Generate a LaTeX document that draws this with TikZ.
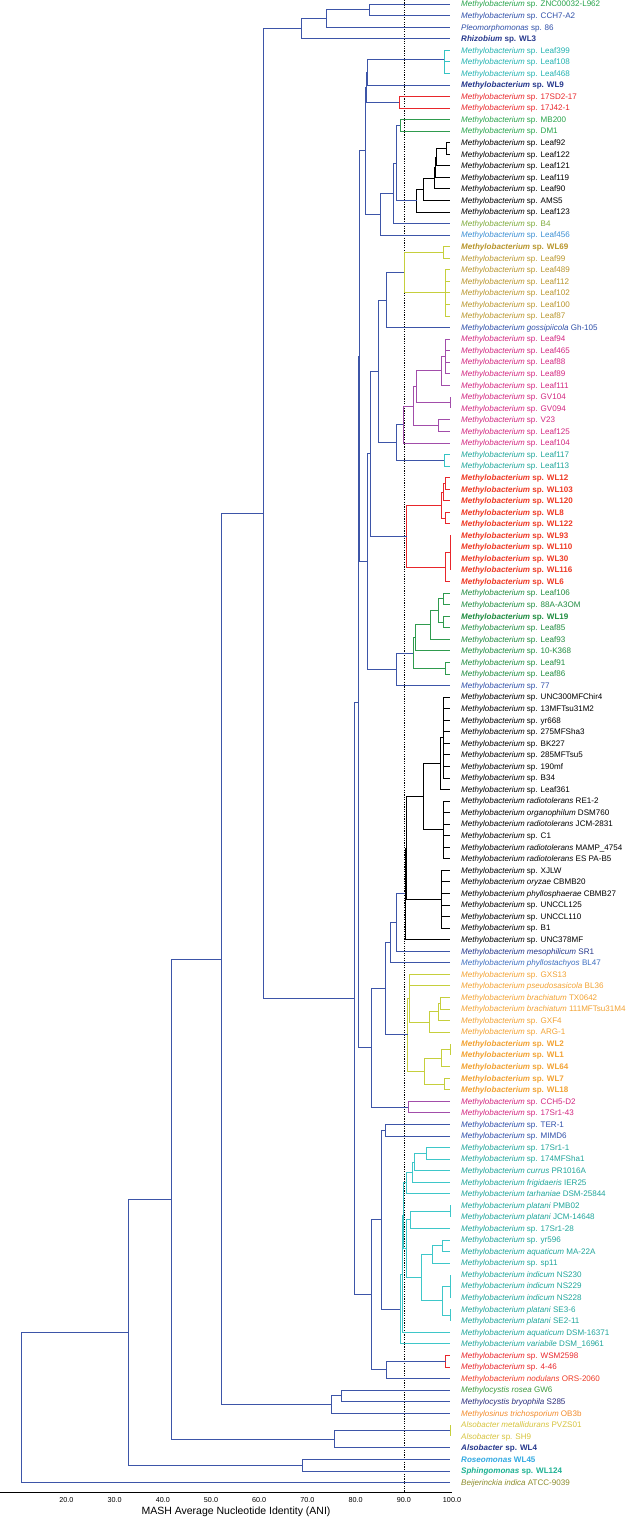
\documentclass[tikz,border=0pt]{standalone}
\usepackage{fontspec}
\setmainfont{Liberation Sans}
\usetikzlibrary{calc,positioning}
\definecolor{bb}{HTML}{3D55A8}
\definecolor{lblu}{HTML}{2F4FA8}
\definecolor{navy}{HTML}{26388C}
\definecolor{pblu}{HTML}{3E6FC0}
\definecolor{lgrn}{HTML}{27A34A}
\definecolor{ccy}{HTML}{35C4C4}
\definecolor{lcy}{HTML}{22B2B0}
\definecolor{red1}{HTML}{E8262B}
\definecolor{olv}{HTML}{7DAA3A}
\definecolor{sky}{HTML}{3B8ED3}
\definecolor{gold}{HTML}{B8952C}
\definecolor{cyel}{HTML}{C6CF3D}
\definecolor{mag}{HTML}{D2267F}
\definecolor{cmag}{HTML}{A24DAA}
\definecolor{tealg}{HTML}{1FA59A}
\definecolor{wlred}{HTML}{EE3A25}
\definecolor{dgrn}{HTML}{1E8B3F}
\definecolor{cgrn}{HTML}{2F9B4E}
\definecolor{orng}{HTML}{F2A233}
\definecolor{cte}{HTML}{3EC7C9}
\definecolor{rosg}{HTML}{3D9A3E}
\definecolor{bryo}{HTML}{2B2E7C}
\definecolor{osin}{HTML}{F28A2B}
\definecolor{als}{HTML}{D6C33C}
\definecolor{roseo}{HTML}{31A9E1}
\definecolor{sphi}{HTML}{1DB192}
\definecolor{beij}{HTML}{8B8B2B}
\tikzset{
  leaf/.style={anchor=west, inner sep=0pt, text height=5.8pt, text depth=0pt, font=\fontsize{8.05}{9}\selectfont},
  br/.style={line width=0.7pt},
  tick/.style={inner sep=0pt, font=\fontsize{7.2}{8}\selectfont},
}
% join two children (first, last) at x
\newcommand{\jn}[5][bb]{%
  \path ($(#4)!0.5!(#5)$) coordinate (mid);
  \coordinate (#2) at (#3,0 |- mid);
  \draw[br,#1] (#2) |- (#4) (#2) |- (#5);}
% extra child of a node
\newcommand{\jx}[3][bb]{\draw[br,#1] (#2) |- (#3);}
\newcommand{\Mby}{\textit{Methylobacterium}}
\begin{document}
\begin{tikzpicture}[x=1pt,y=-1pt]
  \useasboundingbox (0,0) rectangle (633,1519);

  % 90% ANI cut
  \coordinate (cut0) at (404,0);
  \coordinate (cut1) at (404,1492);
  \draw[line width=0.8pt,dash pattern=on 1.2pt off 1.2pt] (cut0) -- (cut1);

  % leaves
  \foreach \c/\t [count=\i] in {
    lgrn/{\Mby{} sp. ZNC00032-L962}, lblu/{\Mby{} sp. CCH7-A2}, lblu/{\textit{Pleomorphomonas} sp. 86},
    navy/{\bfseries\textit{Rhizobium} sp. WL3},
    lcy/{\Mby{} sp. Leaf399}, lcy/{\Mby{} sp. Leaf108}, lcy/{\Mby{} sp. Leaf468},
    navy/{\bfseries\Mby{} sp. WL9},
    red1/{\Mby{} sp. 17SD2-17}, red1/{\Mby{} sp. 17J42-1},
    lgrn/{\Mby{} sp. MB200}, lgrn/{\Mby{} sp. DM1},
    black/{\Mby{} sp. Leaf92}, black/{\Mby{} sp. Leaf122}, black/{\Mby{} sp. Leaf121}, black/{\Mby{} sp. Leaf119},
    black/{\Mby{} sp. Leaf90}, black/{\Mby{} sp. AMS5}, black/{\Mby{} sp. Leaf123},
    olv/{\Mby{} sp. B4}, sky/{\Mby{} sp. Leaf456},
    gold/{\bfseries\Mby{} sp. WL69}, gold/{\Mby{} sp. Leaf99}, gold/{\Mby{} sp. Leaf489}, gold/{\Mby{} sp. Leaf112},
    gold/{\Mby{} sp. Leaf102}, gold/{\Mby{} sp. Leaf100}, gold/{\Mby{} sp. Leaf87},
    lblu/{\textit{Methylobacterium gossipiicola} Gh-105},
    mag/{\Mby{} sp. Leaf94}, mag/{\Mby{} sp. Leaf465}, mag/{\Mby{} sp. Leaf88}, mag/{\Mby{} sp. Leaf89},
    mag/{\Mby{} sp. Leaf111}, mag/{\Mby{} sp. GV104}, mag/{\Mby{} sp. GV094}, mag/{\Mby{} sp. V23},
    mag/{\Mby{} sp. Leaf125}, mag/{\Mby{} sp. Leaf104},
    tealg/{\Mby{} sp. Leaf117}, tealg/{\Mby{} sp. Leaf113},
    wlred/{\bfseries\Mby{} sp. WL12}, wlred/{\bfseries\Mby{} sp. WL103}, wlred/{\bfseries\Mby{} sp. WL120},
    wlred/{\bfseries\Mby{} sp. WL8}, wlred/{\bfseries\Mby{} sp. WL122}, wlred/{\bfseries\Mby{} sp. WL93},
    wlred/{\bfseries\Mby{} sp. WL110}, wlred/{\bfseries\Mby{} sp. WL30}, wlred/{\bfseries\Mby{} sp. WL116},
    wlred/{\bfseries\Mby{} sp. WL6},
    dgrn/{\Mby{} sp. Leaf106}, dgrn/{\Mby{} sp. 88A-A3OM}, dgrn/{\bfseries\Mby{} sp. WL19},
    dgrn/{\Mby{} sp. Leaf85}, dgrn/{\Mby{} sp. Leaf93}, dgrn/{\Mby{} sp. 10-K368},
    dgrn/{\Mby{} sp. Leaf91}, dgrn/{\Mby{} sp. Leaf86},
    lblu/{\Mby{} sp. 77},
    black/{\Mby{} sp. UNC300MFChir4}, black/{\Mby{} sp. 13MFTsu31M2}, black/{\Mby{} sp. yr668},
    black/{\Mby{} sp. 275MFSha3}, black/{\Mby{} sp. BK227}, black/{\Mby{} sp. 285MFTsu5},
    black/{\Mby{} sp. 190mf}, black/{\Mby{} sp. B34}, black/{\Mby{} sp. Leaf361},
    black/{\textit{Methylobacterium radiotolerans} RE1-2}, black/{\textit{Methylobacterium organophilum} DSM760},
    black/{\textit{Methylobacterium radiotolerans} JCM-2831}, black/{\Mby{} sp. C1},
    black/{\textit{Methylobacterium radiotolerans} MAMP\_4754}, black/{\textit{Methylobacterium radiotolerans} ES PA-B5},
    black/{\Mby{} sp. XJLW}, black/{\textit{Methylobacterium oryzae} CBMB20},
    black/{\textit{Methylobacterium phyllosphaerae} CBMB27}, black/{\Mby{} sp. UNCCL125},
    black/{\Mby{} sp. UNCCL110}, black/{\Mby{} sp. B1}, black/{\Mby{} sp. UNC378MF},
    navy/{\textit{Methylobacterium mesophilicum} SR1}, pblu/{\textit{Methylobacterium phyllostachyos} BL47},
    orng/{\Mby{} sp. GXS13}, orng/{\textit{Methylobacterium pseudosasicola} BL36},
    orng/{\textit{Methylobacterium brachiatum} TX0642}, orng/{\textit{Methylobacterium brachiatum} 111MFTsu31M4},
    orng/{\Mby{} sp. GXF4}, orng/{\Mby{} sp. ARG-1},
    orng/{\bfseries\Mby{} sp. WL2}, orng/{\bfseries\Mby{} sp. WL1}, orng/{\bfseries\Mby{} sp. WL64},
    orng/{\bfseries\Mby{} sp. WL7}, orng/{\bfseries\Mby{} sp. WL18},
    mag/{\Mby{} sp. CCH5-D2}, mag/{\Mby{} sp. 17Sr1-43},
    lblu/{\Mby{} sp. TER-1}, lblu/{\Mby{} sp. MIMD6},
    tealg/{\Mby{} sp. 17Sr1-1}, tealg/{\Mby{} sp. 174MFSha1}, tealg/{\textit{Methylobacterium currus} PR1016A},
    tealg/{\textit{Methylobacterium frigidaeris} IER25}, tealg/{\textit{Methylobacterium tarhaniae} DSM-25844},
    tealg/{\textit{Methylobacterium platani} PMB02}, tealg/{\textit{Methylobacterium platani} JCM-14648},
    tealg/{\Mby{} sp. 17Sr1-28}, tealg/{\Mby{} sp. yr596}, tealg/{\textit{Methylobacterium aquaticum} MA-22A},
    tealg/{\Mby{} sp. sp11}, tealg/{\textit{Methylobacterium indicum} NS230}, tealg/{\textit{Methylobacterium indicum} NS229},
    tealg/{\textit{Methylobacterium indicum} NS228}, tealg/{\textit{Methylobacterium platani} SE3-6},
    tealg/{\textit{Methylobacterium platani} SE2-11}, tealg/{\textit{Methylobacterium aquaticum} DSM-16371},
    tealg/{\textit{Methylobacterium variabile} DSM\_16961},
    red1/{\Mby{} sp. WSM2598}, red1/{\Mby{} sp. 4-46}, wlred/{\textit{Methylobacterium nodulans} ORS-2060},
    rosg/{\textit{Methylocystis rosea} GW6}, bryo/{\textit{Methylocystis bryophila} S285},
    osin/{\textit{Methylosinus trichosporium} OB3b}, als/{\textit{Alsobacter metallidurans} PVZS01},
    als/{\textit{Alsobacter} sp. SH9}, navy/{\bfseries\textit{Alsobacter} sp. WL4},
    roseo/{\bfseries\textit{Roseomonas} WL45}, sphi/{\bfseries\textit{Sphingomonas} sp. WL124},
    beij/{\textit{Beijerinckia indica} ATCC-9039}} {
    \coordinate (t\i) at (450,{4+(\i-1)*11.55});
    \node[leaf,text=\c] (l\i) at (461,{4+(\i-1)*11.55}) {\t};
  }

  % top outgroup
  \jn{a1}{369}{t1}{t2}
  \jn{a2}{326.7}{a1}{t3}
  \jn{a3}{301.7}{a2}{t4}

  % Leaf399 ... Leaf456
  \jn[ccy]{c1}{444}{t6}{t7}
  \jn[ccy]{c2}{444}{t5}{c1}
  \jn{w9}{367.7}{c2}{t8}
  \jn[red1]{r1}{399.3}{t9}{t10}
  \jn{wr}{366.5}{w9}{r1}
  \jn[cgrn]{g1}{400}{t11}{t12}
  \jn[black]{b1}{446}{t13}{t14}
  \jn[black]{b2}{436}{b1}{t15}
  \jn[black]{b3}{435}{b2}{t16}
  \jn[black]{b4}{434}{b3}{t17}
  \jn[black]{b5}{423.3}{b4}{t18}
  \jn[black]{b6}{416.7}{b5}{t19}
  \jn{gb}{396}{g1}{b6}
  \jn{gb4}{393.3}{gb}{t20}
  \jn{gb5}{380}{gb4}{t21}
  \jn{x2}{365}{wr}{gb5}

  % WL69 ... Leaf113
  \jn[cyel]{y1}{443}{t22}{t23}
  \jn[cyel]{y2}{445}{t24}{t28}
  \jx[cyel]{y2}{t25} \jx[cyel]{y2}{t26} \jx[cyel]{y2}{t27}
  \jn[cyel]{yg}{404.3}{y1}{y2}
  \jn{yg2}{386.7}{yg}{t29}
  \jn[cmag]{m1}{445.7}{t30}{t33}
  \jx[cmag]{m1}{t31} \jx[cmag]{m1}{t32}
  \jn[cmag]{m2}{441.7}{m1}{t34}
  \jn[cmag]{gv}{450}{t35}{t36}
  \jn[cmag]{m3}{416.7}{m2}{gv}
  \jn[cmag]{vl}{438.3}{t37}{t38}
  \jn[cmag]{m4}{413.3}{m3}{vl}
  \jn[cmag]{m5}{403.3}{m4}{t39}
  \jn[ccy]{tl}{444}{t40}{t41}
  \jn{mt}{396}{m5}{tl}
  \jn{G1}{378.3}{yg2}{mt}

  % WL12 ... WL6
  \jn[red1]{rw1}{445.7}{t42}{t43}
  \jn[red1]{rw2}{443.3}{rw1}{t44}
  \jn[red1]{rw3}{445.7}{t45}{t46}
  \jn[red1]{rw4}{441}{rw2}{rw3}
  \jn[red1]{rw5}{450}{t47}{t50}
  \jx[red1]{rw5}{t48} \jx[red1]{rw5}{t49}
  \jn[red1]{rw6}{445.7}{rw5}{t51}
  \jn[red1]{rw7}{406.7}{rw4}{rw6}
  \jn{G2}{370.7}{G1}{rw7}

  % Leaf106 ... 77
  \jn[cgrn]{gr1}{443.3}{t52}{t53}
  \jn[cgrn]{gr2}{443.3}{t54}{t55}
  \jn[cgrn]{gr3}{438}{gr1}{gr2}
  \jn[cgrn]{gr4}{430}{gr3}{t56}
  \jn[cgrn]{gr5}{415}{gr4}{t57}
  \jn[cgrn]{gr6}{445.7}{t58}{t59}
  \jn[cgrn]{gr7}{413.3}{gr5}{gr6}
  \jn{g77}{396}{gr7}{t60}
  \jn{G3}{367.3}{G2}{g77}
  \jn{Ua}{359.5}{x2}{G3}

  % UNC300MFChir4 ... BL47
  \jn[black]{k1}{443}{t61}{t68}
  \foreach \j in {62,...,67} {\jx[black]{k1}{t\j}}
  \jn[black]{k2}{440}{k1}{t69}
  \jn[black]{k3}{443.3}{t70}{t75}
  \foreach \j in {71,...,74} {\jx[black]{k3}{t\j}}
  \jn[black]{k4}{423.3}{k2}{k3}
  \jn[black]{k5}{441.7}{t76}{t81}
  \foreach \j in {77,...,80} {\jx[black]{k5}{t\j}}
  \jn[black]{k6}{406}{k4}{k5}
  \jn[black]{k7}{405}{k6}{t82}
  \jn{k8}{396}{k7}{t83}
  \jn{k9}{390}{k8}{t84}

  % GXS13 ... 17Sr1-43
  \jn[cyel]{o1}{440}{t87}{t88}
  \jn[cyel]{o2}{438.3}{o1}{t89}
  \jn[cyel]{o3}{429.3}{o2}{t90}
  \jn[cyel]{o4}{409.3}{t85}{o3}
  \jx[cyel]{o4}{t86}
  \jn[cyel]{wl1}{450}{t91}{t92}
  \jn[cyel]{wl2}{441.7}{wl1}{t93}
  \jn[cyel]{wl3}{444}{t94}{t95}
  \jn[cyel]{wl4}{424.3}{wl2}{wl3}
  \jn[cyel]{o6}{407.7}{o4}{wl4}
  \jn{Z1}{385}{k9}{o6}
  \jn[cmag]{cc}{408.3}{t96}{t97}
  \jn{Z2}{371.7}{Z1}{cc}
  \jn{U}{358.5}{Ua}{Z2}

  % TER-1 ... variabile
  \jn{tm}{385}{t98}{t99}
  \jn[cte]{e1}{426.7}{t100}{t101}
  \jn[cte]{e2}{414}{e1}{t102}
  \jn[cte]{e3}{412}{e2}{t103}
  \jn[cte]{e4}{406}{e3}{t104}
  \jn[cte]{p1}{450}{t105}{t106}
  \jn[cte]{p2}{410}{p1}{t107}
  \jn[cte]{q1}{442.3}{t108}{t109}
  \jn[cte]{q2}{432.3}{q1}{t110}
  \jn[cte]{n1}{450}{t111}{t113}
  \jx[cte]{n1}{t112}
  \jn[cte]{n2}{450}{t114}{t115}
  \jn[cte]{n3}{442.3}{n1}{n2}
  \jn[cte]{q3}{421.7}{q2}{n3}
  \jn[cte]{p3}{406.7}{p2}{q3}
  \jn[cte]{e5}{403.3}{e4}{p3}
  \jn[cte]{e6}{402}{e5}{t116}
  \jn[cte]{e7}{400}{e6}{t117}
  \jn{TM}{381}{tm}{e7}

  % nodulans group
  \jn[red1]{rp}{445.7}{t118}{t119}
  \jn{N}{386.4}{rp}{t120}
  \jn{R}{371.7}{TM}{N}
  \jn{M}{354}{U}{R}
  \jn{D}{263}{a3}{M}

  % outgroups
  \jn{mc1}{341.1}{t121}{t122}
  \jn{mc2}{331.5}{mc1}{t123}
  \jn{C}{221.6}{D}{mc2}
  \jn[cyel]{al1}{450}{t124}{t125}
  \jn{al2}{334.4}{al1}{t126}
  \jn{B}{171}{C}{al2}
  \jn{rs}{302.6}{t127}{t128}
  \jn{A}{128}{B}{rs}
  \jn{root}{21.6}{A}{t129}

  % axis
  \coordinate (ax0) at (0,1492);
  \coordinate (ax1) at (452,1492);
  \draw[line width=0.6pt] (ax0) -- (ax1);
  \foreach \v in {20,30,...,100}
    \node[tick] (tk\v) at ({452-(100-\v)*4.82},1500) {\v.0};
  \node[font=\fontsize{10.5}{12}\selectfont, inner sep=0pt] (ttl) at (236,1512) {MASH Average Nucleotide Identity (ANI)};
\end{tikzpicture}
\end{document}
